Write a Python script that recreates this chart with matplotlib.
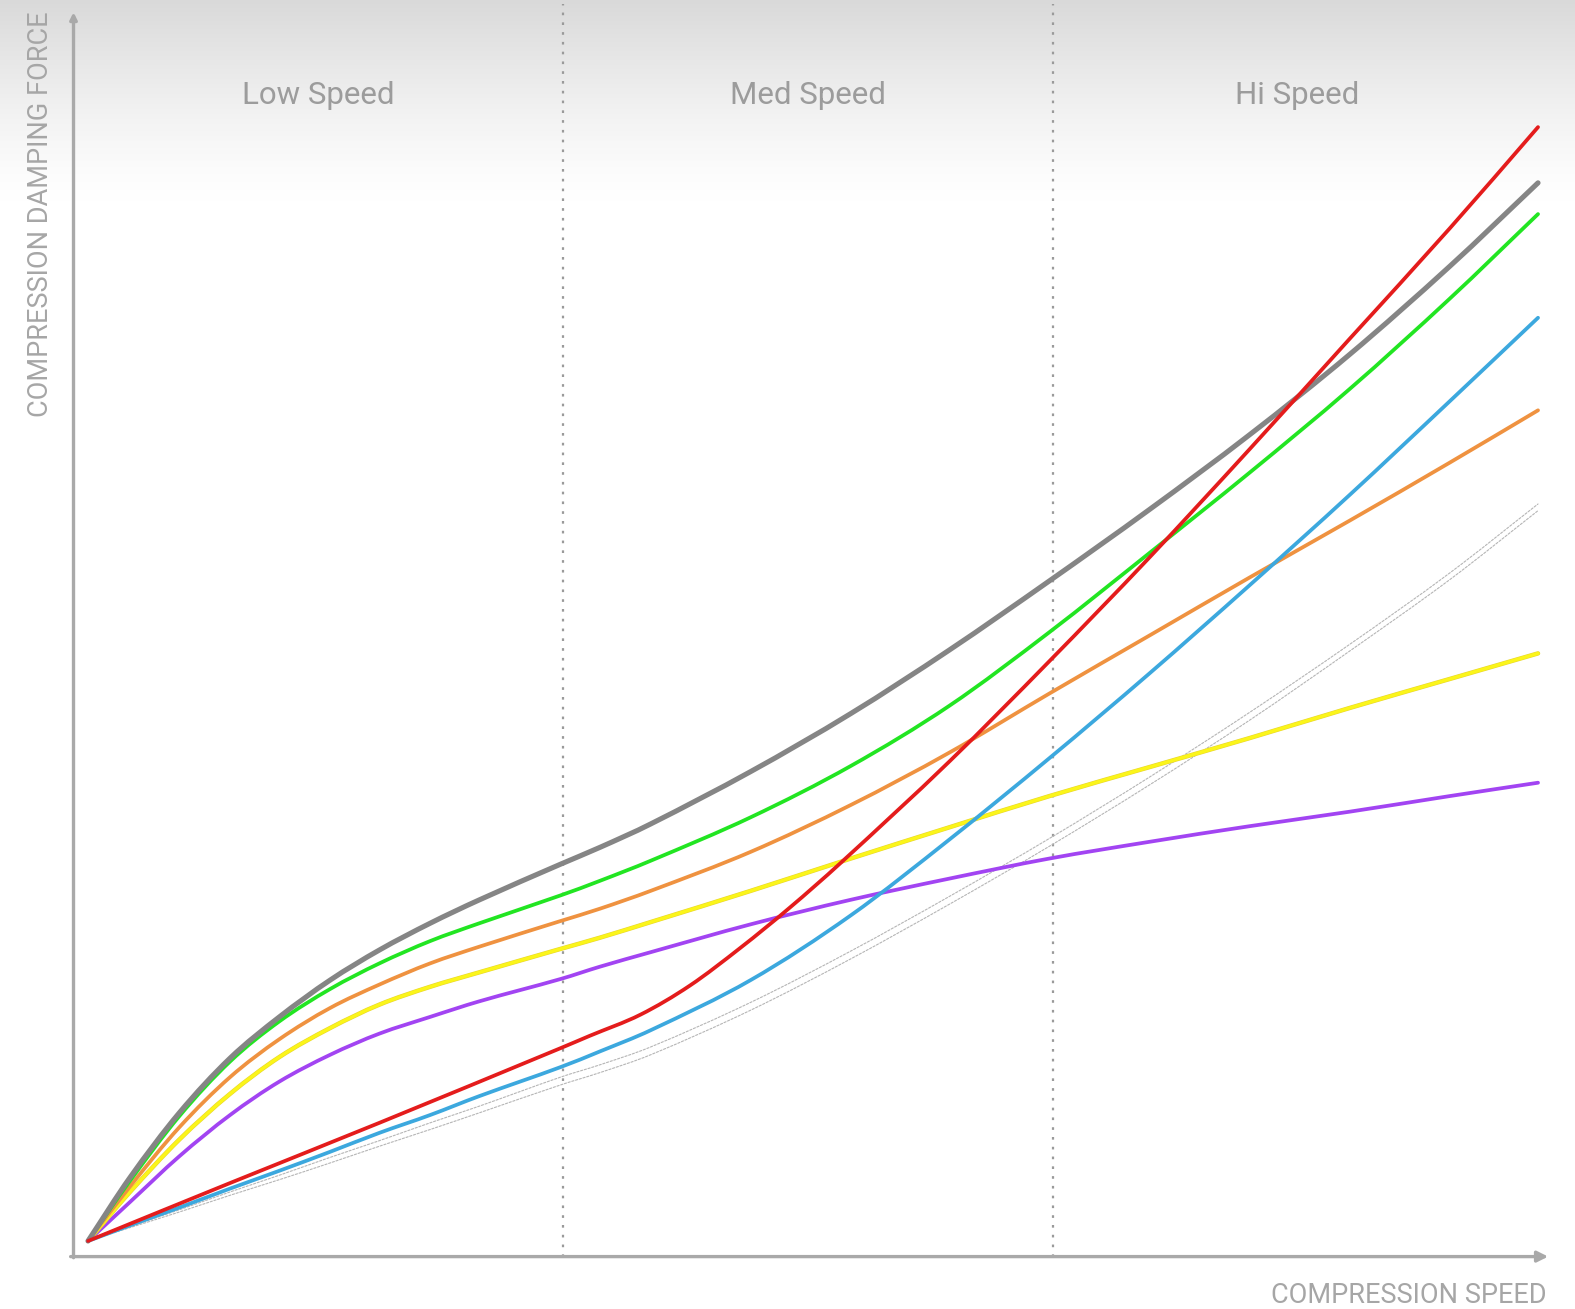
import numpy as np
import matplotlib
matplotlib.use('Agg')
import matplotlib.pyplot as plt
import matplotlib.patheffects as pe
from matplotlib.colors import LinearSegmentedColormap
from matplotlib.path import Path
from matplotlib.patches import PathPatch

plt.rcParams['font.family'] = ['Roboto', 'DejaVu Sans']

# compression speed (0 = origin of the curves, 10 = right end)
speed = [0, 0.29, 0.63, 0.98, 1.32, 1.67, 2.01, 2.36, 2.70, 3.26, 3.53,
         3.88, 4.57, 5.26, 5.94, 6.63, 7.32, 8.01, 8.70, 9.39, 10.0]

# compression damping force for each setting
gray_force = [0, 0.57, 1.15, 1.64, 2.01, 2.34, 2.61, 2.85, 3.06, 3.38, 3.53,
              3.74, 4.21, 4.73, 5.30, 5.92, 6.56, 7.23, 7.95, 8.74, 9.49]
green_force = [0, 0.54, 1.12, 1.61, 1.97, 2.26, 2.49, 2.69, 2.85, 3.10, 3.23,
               3.41, 3.80, 4.26, 4.80, 5.46, 6.17, 6.89, 7.64, 8.45, 9.21]
orange_force = [0, 0.49, 1.02, 1.47, 1.81, 2.09, 2.30, 2.49, 2.64, 2.87, 2.98,
                3.14, 3.49, 3.91, 4.38, 4.91, 5.43, 5.95, 6.46, 6.98, 7.45]
yellow_force = [0, 0.44, 0.91, 1.32, 1.65, 1.91, 2.12, 2.28, 2.41, 2.62, 2.72,
                2.86, 3.14, 3.43, 3.71, 3.99, 4.25, 4.51, 4.78, 5.04, 5.27]
purple_force = [0, 0.35, 0.76, 1.13, 1.43, 1.67, 1.86, 2.01, 2.15, 2.35, 2.46,
                2.59, 2.84, 3.06, 3.25, 3.43, 3.58, 3.72, 3.85, 3.99, 4.11]
blue_force = [0, 0.14, 0.30, 0.47, 0.63, 0.80, 0.97, 1.13, 1.30, 1.56, 1.70,
              1.89, 2.34, 2.92, 3.60, 4.33, 5.09, 5.88, 6.69, 7.53, 8.28]
# the red setting bends sharply in the medium range, so it was read more finely there
red_speed = [0, 0.98, 2.01, 3.26, 3.46, 3.81, 4.15, 4.50, 4.84, 5.19, 5.94,
             6.63, 7.32, 8.01, 8.70, 9.39, 10.0]
red_force = [0, 0.52, 1.06, 1.73, 1.84, 2.03, 2.29, 2.63, 2.99, 3.39, 4.30,
             5.20, 6.13, 7.10, 8.09, 9.08, 9.99]
# two faint dotted reference curves
ref_a_force = [0, 0.13, 0.28, 0.44, 0.59, 0.75, 0.90, 1.06, 1.21, 1.47, 1.58,
               1.74, 2.14, 2.60, 3.09, 3.61, 4.16, 4.74, 5.35, 5.99, 6.61]
ref_b_force = [0, 0.12, 0.26, 0.41, 0.55, 0.70, 0.85, 1.00, 1.15, 1.40, 1.51,
               1.67, 2.07, 2.53, 3.02, 3.54, 4.09, 4.67, 5.29, 5.93, 6.55]

zone_names = ['Low Speed', 'Med Speed', 'Hi Speed']


def smooth_path(xs, ys):
    """Bezier path going through every point (cubic Hermite segments)."""
    x = np.asarray(xs, float)
    y = np.asarray(ys, float)
    m = np.empty_like(y)
    m[1:-1] = (y[2:] - y[:-2]) / (x[2:] - x[:-2])
    m[0] = (y[1] - y[0]) / (x[1] - x[0])
    m[-1] = (y[-1] - y[-2]) / (x[-1] - x[-2])
    verts = [(x[0], y[0])]
    codes = [Path.MOVETO]
    for i in range(len(x) - 1):
        h = (x[i + 1] - x[i]) / 3
        verts += [(x[i] + h, y[i] + m[i] * h),
                  (x[i + 1] - h, y[i + 1] - m[i + 1] * h),
                  (x[i + 1], y[i + 1])]
        codes += [Path.CURVE4] * 3
    return Path(verts, codes)


def curve(ax, xs, ys, **kw):
    patch = PathPatch(smooth_path(xs, ys), fill=False, capstyle='round',
                      joinstyle='round', **kw)
    ax.add_patch(patch)
    return patch


fig = plt.figure(figsize=(15.75, 13.09), dpi=100)
ax = fig.add_axes([0, 0, 1, 1])
ax.set_xlim(-0.607, 10.255)
ax.set_ylim(-0.610, 11.13)
ax.axis('off')

# grey fade at the top of the picture
fade = np.linspace(0, 1, 256) ** 1.3
grad_cmap = LinearSegmentedColormap.from_list('fade', ['#ffffff', '#d9d9d9'])
ax.imshow(fade[:, None], extent=[-0.607, 10.255, 9.3, 11.13], origin='lower',
          aspect='auto', cmap=grad_cmap, zorder=0)

axis_start, axis_end = -0.10, 10.03
axis_y = -0.14
axis_color = '#a9a9a9'

# axes with arrow heads
ax.annotate('', xy=(axis_end + 0.04, axis_y), xytext=(axis_start - 0.02, axis_y),
            arrowprops=dict(arrowstyle='-|>', color=axis_color, lw=2.4,
                            mutation_scale=16, shrinkA=0, shrinkB=0), zorder=2)
ax.annotate('', xy=(axis_start, 11.02), xytext=(axis_start, axis_y - 0.01),
            arrowprops=dict(arrowstyle='-|>', color=axis_color, lw=2.4,
                            mutation_scale=10, shrinkA=0, shrinkB=0), zorder=2)

# speed zones: the axis split in thirds
zone_w = (axis_end - axis_start) / 3
for i in (1, 2):
    ax.plot([axis_start + i * zone_w] * 2, [axis_y, 11.09], color='#9a9a9a',
            lw=1.6, ls=(0, (1.2, 3.2)), zorder=1)
for i, name in enumerate(zone_names):
    ax.text(axis_start + (i + 0.5) * zone_w, 10.27, name, ha='center', va='center',
            fontsize=22.5, color='#9c9c9c', zorder=3)

ax.text(-0.331, 9.21, 'COMPRESSION DAMPING FORCE', rotation=90, ha='center',
        va='center', fontsize=19.5, color='#a6a6a6')
ax.text(10.06, -0.49, 'COMPRESSION SPEED', ha='right', va='center',
        fontsize=19.5, color='#a6a6a6')

# curves
for ref in (ref_a_force, ref_b_force):
    curve(ax, speed, ref, edgecolor='#b5b5b5', lw=0.8, ls=(0, (2, 1.5)), zorder=4)

curve(ax, speed, purple_force, edgecolor='#a244f2', lw=2.7, zorder=5)
curve(ax, speed, yellow_force, edgecolor='#fbf51a', lw=2.4, zorder=5,
      path_effects=[pe.Stroke(linewidth=3.2, foreground='#e8d630'), pe.Normal()])
curve(ax, speed, orange_force, edgecolor='#ef9240', lw=2.7, zorder=5)
curve(ax, speed, green_force, edgecolor='#22e522', lw=2.7, zorder=5)
curve(ax, speed, gray_force, edgecolor='#858585', lw=3.7, zorder=6)
curve(ax, speed, blue_force, edgecolor='#3ca8de', lw=2.7, zorder=7)
curve(ax, red_speed, red_force, edgecolor='#e41c1c', lw=2.7, zorder=8)

fig.savefig('out.png', dpi=100)
